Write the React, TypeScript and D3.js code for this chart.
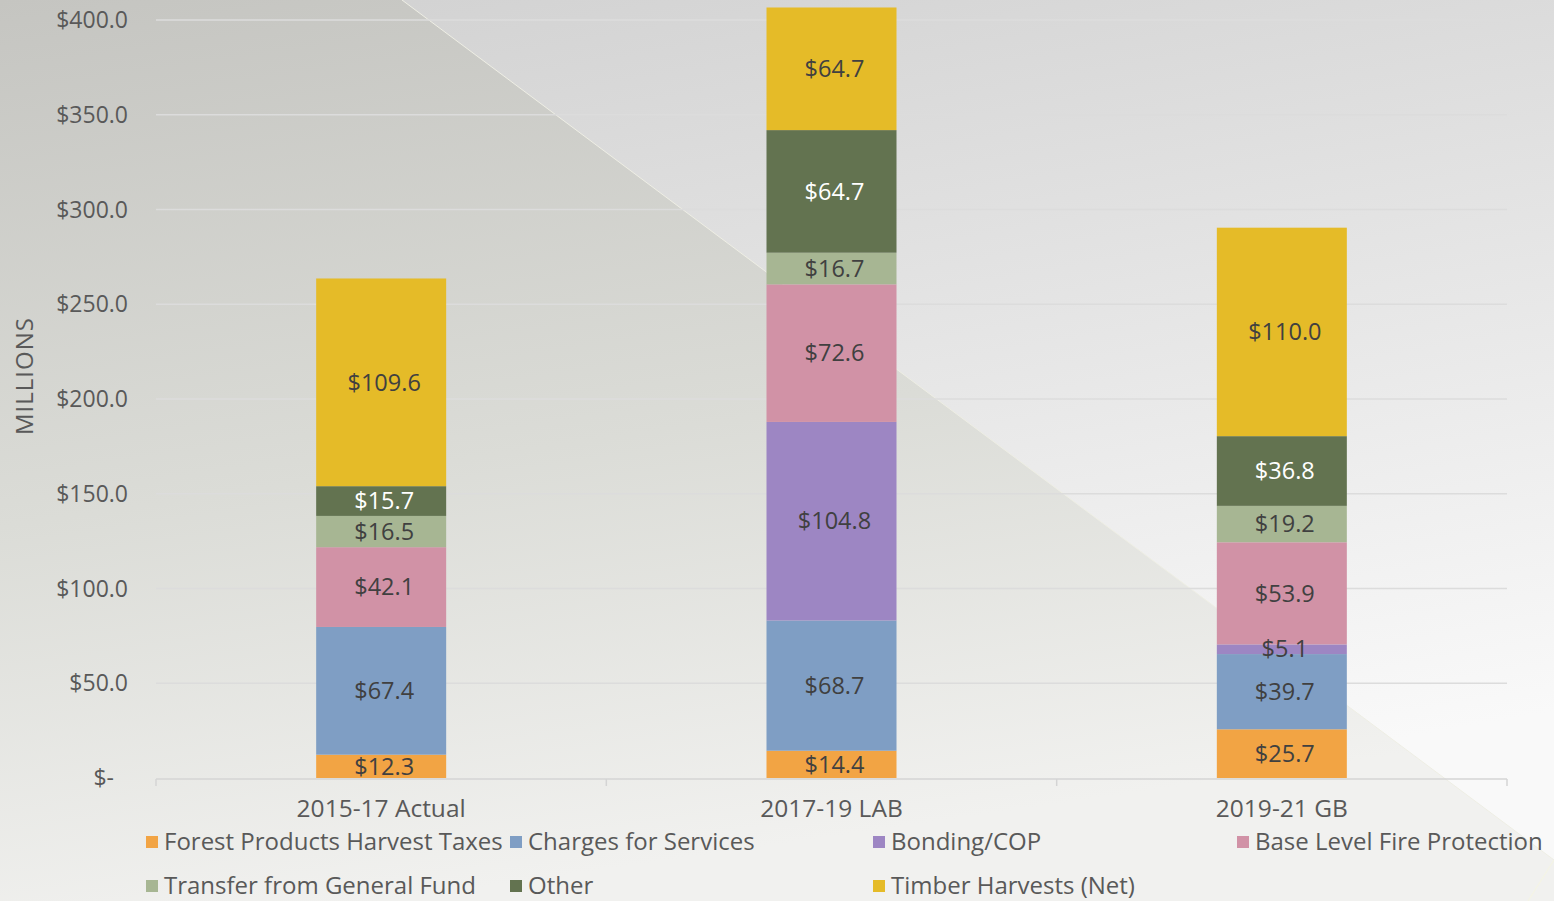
import React, { useRef, useEffect } from 'react';
import * as d3 from 'd3';

// Categories and series (values in $ millions)
const periods = ['2015-17 Actual', '2017-19 LAB', '2019-21 GB'];
const seriesNames = [
  'Forest Products Harvest Taxes',
  'Charges for Services',
  'Bonding/COP',
  'Base Level Fire Protection',
  'Transfer from General Fund',
  'Other',
  'Timber Harvests (Net)',
];
const forestTaxes = [12.3, 14.4, 25.7];
const chargesForServices = [67.4, 68.7, 39.7];
const bondingCop = [0, 104.8, 5.1];
const baseFire = [42.1, 72.6, 53.9];
const transferGF = [16.5, 16.7, 19.2];
const other = [15.7, 64.7, 36.8];
const timberHarvests = [109.6, 64.7, 110.0];
const yTicks = [0, 50, 100, 150, 200, 250, 300, 350, 400];

const colors = ['#F2A444', '#7F9EC4', '#9D86C3', '#D192A6', '#A7B693', '#637350', '#E5BB28'];

const App = () => {
  const svgRef = useRef<SVGSVGElement>(null);

  useEffect(() => {
    const width = 1554;
    const height = 901;
    const marginLeft = 156;
    const marginRight = 47;
    const yTop = 20;
    const yBottom = 778;
    const font = "'Open Sans', 'DejaVu Sans', sans-serif";

    const svg = d3.select(svgRef.current)
      .attr('width', width)
      .attr('height', height)
      .attr('viewBox', `0 0 ${width} ${height}`);
    svg.selectAll('*').remove();

    // background
    const defs = svg.append('defs');
    const bgGrad = defs.append('linearGradient').attr('id', 'bg')
      .attr('x1', 0).attr('y1', 0).attr('x2', 0.3).attr('y2', 1);
    bgGrad.append('stop').attr('offset', '0%').attr('stop-color', '#d0d0d0');
    bgGrad.append('stop').attr('offset', '100%').attr('stop-color', '#f9f9f9');
    const leftGrad = defs.append('linearGradient').attr('id', 'leftbg')
      .attr('x1', 0).attr('y1', 0).attr('x2', 0.25).attr('y2', 1);
    leftGrad.append('stop').attr('offset', '0%').attr('stop-color', '#c5c5c1');
    leftGrad.append('stop').attr('offset', '55%').attr('stop-color', '#dbdcd7');
    leftGrad.append('stop').attr('offset', '100%').attr('stop-color', '#f1f1ef');

    svg.append('rect').attr('width', width).attr('height', height).attr('fill', 'url(#bg)');
    svg.append('path')
      .attr('d', `M0,0 L402,0 L${width},860 L${width},${height} L0,${height} Z`)
      .attr('fill', 'url(#leftbg)');
    svg.append('line')
      .attr('x1', 402).attr('y1', 0).attr('x2', width).attr('y2', 860)
      .attr('stroke', '#eeeee4').attr('stroke-width', 1);
    svg.append('line')
      .attr('x1', width).attr('y1', 860).attr('x2', 1528).attr('y2', height)
      .attr('stroke', '#f4f4e4').attr('stroke-width', 1.2);

    // scales
    const x = d3.scaleBand()
      .domain(periods)
      .range([marginLeft, width - marginRight])
      .paddingInner(0)
      .paddingOuter(0);
    const barWidth = 130;
    const y = d3.scaleLinear().domain([0, 400]).range([yBottom, yTop]);

    // gridlines + y labels
    const gy = svg.append('g');
    gy.selectAll('line').data(yTicks.filter(d => d > 0)).join('line')
      .attr('x1', marginLeft).attr('x2', width - marginRight)
      .attr('y1', d => y(d)).attr('y2', d => y(d))
      .attr('stroke', '#dcdcdc').attr('stroke-width', 1.5);
    gy.selectAll('text').data(yTicks).join('text')
      .attr('x', d => d === 0 ? 114 : 128)
      .attr('y', d => y(d))
      .attr('dy', '0.35em')
      .attr('text-anchor', 'end')
      .attr('font-family', font)
      .attr('font-size', 23)
      .attr('fill', '#595959')
      .text(d => d === 0 ? '$-' : `$${d3.format('.1f')(d)}`);

    // axis title
    svg.append('text')
      .attr('transform', `translate(33,376) rotate(-90)`)
      .attr('text-anchor', 'middle')
      .attr('font-family', font)
      .attr('font-size', 24)
      .attr('letter-spacing', 1)
      .attr('fill', '#595959')
      .text('MILLIONS');

    // stacked data
    const valuesBySeries = [forestTaxes, chargesForServices, bondingCop, baseFire, transferGF, other, timberHarvests];
    const table = periods.map((p, i) => {
      const row: Record<string, any> = { period: p };
      seriesNames.forEach((s, j) => { row[s] = valuesBySeries[j][i]; });
      return row;
    });
    const stacked = d3.stack<any>().keys(seriesNames)(table);

    const layers = svg.append('g').selectAll('g').data(stacked).join('g')
      .attr('fill', (_, i) => colors[i]);
    layers.selectAll('rect').data(d => d).join('rect')
      .attr('x', d => (x(d.data.period) as number) + x.bandwidth() / 2 - barWidth / 2)
      .attr('width', barWidth)
      .attr('y', d => y(d[1]))
      .attr('height', d => y(d[0]) - y(d[1]));

    // axis baseline with ticks at band edges
    const axis = svg.append('g');
    axis.append('line')
      .attr('x1', marginLeft).attr('x2', width - marginRight)
      .attr('y1', yBottom + 1).attr('y2', yBottom + 1)
      .attr('stroke', '#d4d4d4').attr('stroke-width', 1.5);
    const edges = periods.map(p => x(p) as number).concat([width - marginRight]);
    axis.selectAll('line.tick').data(edges).join('line')
      .attr('class', 'tick')
      .attr('x1', d => d).attr('x2', d => d)
      .attr('y1', yBottom + 1).attr('y2', yBottom + 8)
      .attr('stroke', '#d4d4d4').attr('stroke-width', 1.5);
    axis.selectAll('text').data(periods).join('text')
      .attr('x', d => (x(d) as number) + x.bandwidth() / 2)
      .attr('y', 808)
      .attr('dy', '0.35em')
      .attr('text-anchor', 'middle')
      .attr('font-family', font)
      .attr('font-size', 24.5)
      .attr('fill', '#595959')
      .text(d => d);

    // data labels
    stacked.forEach((layer, i) => {
      svg.append('g').selectAll('text').data(layer.filter(d => d[1] - d[0] > 0)).join('text')
        .attr('x', d => (x(d.data.period) as number) + x.bandwidth() / 2 + 3)
        .attr('y', d => (y(d[0]) + y(d[1])) / 2)
        .attr('dy', '0.35em')
        .attr('text-anchor', 'middle')
        .attr('font-family', font)
        .attr('font-size', 23.5)
        .attr('fill', seriesNames[i] === 'Other' ? '#ffffff' : '#404040')
        .text(d => `$${d3.format('.1f')(d[1] - d[0])}`);
    });

    // legend
    const legendPos = [
      [146, 842], [510, 842], [873, 842], [1237, 842],
      [146, 886], [510, 886], [873, 886],
    ];
    const legend = svg.append('g').selectAll('g').data(seriesNames).join('g')
      .attr('transform', (_, i) => `translate(${legendPos[i][0]},${legendPos[i][1]})`);
    legend.append('rect')
      .attr('x', 0).attr('y', -6).attr('width', 12).attr('height', 12)
      .attr('fill', (_, i) => colors[i]);
    legend.append('text')
      .attr('x', 18).attr('y', 0).attr('dy', '0.35em')
      .attr('font-family', font)
      .attr('font-size', 24)
      .attr('fill', '#595959')
      .text(d => d);
  }, []);

  return (
    <svg ref={svgRef} style={{ position: 'absolute', left: 0, top: 0 }}></svg>
  );
};

export default App;
